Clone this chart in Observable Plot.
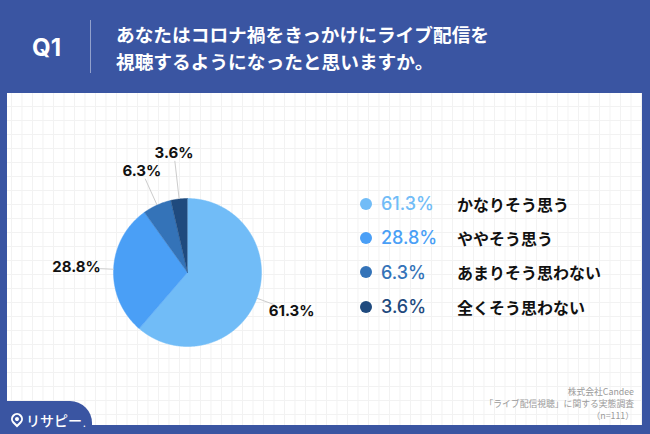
<!DOCTYPE html>
<html lang="ja">
<head>
<meta charset="utf-8">
<script src="https://cdn.jsdelivr.net/npm/d3@7"></script>
<script src="https://cdn.jsdelivr.net/npm/@observablehq/plot@0.6"></script>
<style>
  html, body { margin: 0; padding: 0; }
  body {
    width: 650px; height: 434px; overflow: hidden; position: relative;
    background: #3a55a2;
    font-family: "Noto Sans CJK JP", "Noto Sans", sans-serif;
  }
  #q { position: absolute; left: 32px; top: 33px; color: #fff; font: bold 24px "Inter", "Noto Sans", sans-serif; line-height: 30px; }
  #divider { position: absolute; left: 90px; top: 20px; width: 1px; height: 53px; background: rgba(255,255,255,0.45); }
  #title { position: absolute; left: 116px; top: 21px; color: #fff; font-weight: bold; font-size: 18.7px; line-height: 26.5px; white-space: nowrap; }
  #panel {
    position: absolute; left: 7px; top: 93px; width: 635px; height: 332px; background-color: #fff;
    background-image: linear-gradient(to right, #f2f2f2 1px, transparent 1px), linear-gradient(to bottom, #f2f2f2 1px, transparent 1px);
    background-size: 10.5px 14px; background-position: 4px 13px;
  }
  #tab { position: absolute; left: 0; top: 401px; width: 92px; height: 33px; background: #3a55a2; border-top-right-radius: 22px; }
  #logo { position: absolute; left: 11px; top: 406px; color: #fff; font-size: 14px; font-weight: 500; display: flex; align-items: center; line-height: 20px; }
  #pin { width: 8px; height: 8px; border: 2px solid #fff; border-radius: 50% 50% 50% 0; transform: rotate(-45deg); margin-right: 3px; margin-top: -2px; position: relative; }
  #pin::after { content: ""; position: absolute; left: 2px; top: 2px; width: 4px; height: 4px; border-radius: 50%; background: #fff; }
  #logo .dot { font-size: 9px; margin-left: 1px; margin-top: 8px; }
  #caption { position: absolute; right: 16px; top: 386px; color: #9a9a9a; font-size: 8.8px; line-height: 12px; text-align: right; white-space: nowrap; }
  #pie { position: absolute; left: 36.7px; top: 122px; }
  #legend { position: absolute; left: 360px; top: 186.5px; }
  .row { display: flex; align-items: center; height: 34.3px; }
  .row .sw { width: 12px; height: 12px; border-radius: 50%; margin-right: 9px; }
  .row .pct { width: 76px; font: 500 18px "Inter", "Noto Sans", sans-serif; }
  .row .lab { font-weight: bold; font-size: 16px; color: #111; }
</style>
</head>
<body>
<div id="q">Q1</div>
<div id="divider"></div>
<div id="title"></div>
<div id="panel"></div>
<div id="tab"></div>
<div id="logo"><span id="pin"></span><span>リサピー</span><span class="dot">.</span></div>
<div id="caption"></div>
<div id="pie"></div>
<div id="legend"></div>
<script>
// ---- data ----
const titleLines = ["あなたはコロナ禍をきっかけにライブ配信を", "視聴するようになったと思いますか。"];
const categories = ["かなりそう思う", "ややそう思う", "あまりそう思わない", "全くそう思わない"];
const values = [61.3, 28.8, 6.3, 3.6];
const colors = ["#71bcf7", "#4a9ff6", "#3473b8", "#1f4a7e"];
const captionLines = ["株式会社Candee", "「ライブ配信視聴」に関する実態調査", "（n=111）"];

// ---- header / caption ----
document.getElementById("title").innerHTML = titleLines.join("<br>");
document.getElementById("caption").innerHTML = captionLines.join("<br>");

// ---- legend ----
const legend = document.getElementById("legend");
categories.forEach((c, i) => {
  const row = document.createElement("div");
  row.className = "row";
  row.innerHTML = `<span class="sw" style="background:${colors[i]}"></span><span class="pct" style="color:${colors[i]}">${values[i].toFixed(1)}%</span><span class="lab">${c}</span>`;
  legend.appendChild(row);
});

// ---- pie ----
const Rpx = 74, size = 300, D = size / 2 / Rpx;
const arcs = d3.pie().sort(null).value(d => d)(values);
const pts = [];
arcs.forEach((a, i) => {
  const cat = categories[i];
  pts.push({cat, x: 0, y: 0});
  const n = Math.max(2, Math.ceil((a.endAngle - a.startAngle) / 0.01));
  for (let k = 0; k <= n; k++) {
    const t = a.startAngle + (a.endAngle - a.startAngle) * k / n;
    pts.push({cat, x: Math.sin(t), y: Math.cos(t)});
  }
});

const labels = arcs.map((a, i) => {
  const m = (a.startAngle + a.endAngle) / 2;
  const dx = Math.sin(m), dy = Math.cos(m);
  const text = values[i].toFixed(1) + "%";
  const k = values[i] < 5 ? 1.62 : 1.5;          // small slices pushed further out
  const w = text.length * 4.3, h = 5.5;           // half box of label (px)
  const ext = Math.min(w / Math.max(Math.abs(dx), 1e-6), h / Math.max(Math.abs(dy), 1e-6));
  const end = (k * Rpx - ext - 2) / Rpx;
  return {text, x: dx * k, y: dy * k, x1: dx, y1: dy, x2: dx * end, y2: dy * end};
});

const chart = Plot.plot({
  width: size, height: size, margin: 0,
  x: {domain: [-D, D], axis: null},
  y: {domain: [-D, D], axis: null},
  color: {domain: categories, range: colors},
  style: {background: "transparent", overflow: "visible"},
  marks: [
    Plot.line(pts, {x: "x", y: "y", z: "cat", fill: "cat", stroke: "cat", strokeWidth: 0.5}),
    Plot.link(labels, {x1: "x1", y1: "y1", x2: "x2", y2: "y2", stroke: "#cccccc", strokeWidth: 1}),
    Plot.text(labels, {x: "x", y: "y", text: "text", fontSize: 15, fontWeight: "bold", fontFamily: "Inter, sans-serif", fill: "#111"})
  ]
});
document.getElementById("pie").appendChild(chart);
</script>
</body>
</html>
